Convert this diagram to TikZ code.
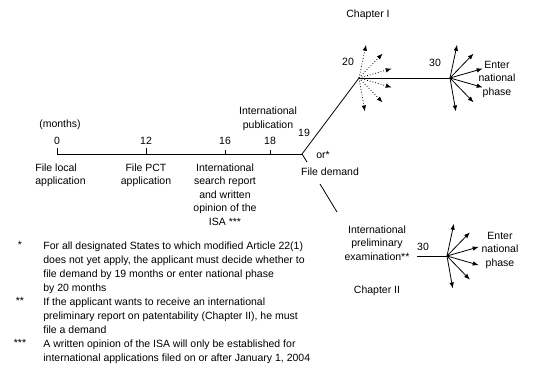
\documentclass[tikz,border=0pt]{standalone}
\usepackage{fontspec}
\setmainfont{Liberation Sans}
\usetikzlibrary{arrows.meta}
\begin{document}
\begin{tikzpicture}[
            x=1pt,
            y=-1pt,
            line width=0.8pt,
            every node/.style={
                inner sep=0pt,
                align=center,
                font=\fontsize{10.5}{13.5}\selectfont
            },
            fan/.style={-{Latex[length=6pt,width=4.5pt]}},
            dotfan/.style={fan, dotted},
            note/.style={
                anchor=north west,
                align=left,
                font=\fontsize{10.5}{14}\selectfont
            },
            starmark/.style={anchor=north, font=\fontsize{10.5}{14}\selectfont}
        ]
            \useasboundingbox (0,0) rectangle (540,370);

            \coordinate (t0) at (57,154);
            \coordinate (t12) at (146,154);
            \coordinate (t16) at (225,154);
            \coordinate (t18) at (270,154);
            \coordinate (t19) at (302,154);
            \coordinate (t20) at (359,78);
            \coordinate (t30) at (450,78);
            \coordinate (s30) at (447,256);
            \coordinate (stub) at (307,162);
            \coordinate (b1) at (320,184);
            \coordinate (b2) at (337,212);
            \coordinate (s0) at (417,256);

            \node (months) at (60,125) {(months)};
            \node (n0) at (57,141) {0};
            \node (n12) at (146,141) {12};
            \node (n16) at (225,141) {16};
            \node (n18) at (270,141) {18};
            \node (n19) at (304,133) {19};
            \node (pub) at (268,119) {International\\publication};
            \node (n20) at (348,62) {20};
            \node (n30) at (435,63) {30};
            \node (m30) at (423,247) {30};
            \node (chI) at (368,15) {Chapter I};
            \node (chII) at (377,291) {Chapter II};
            \node (or) at (323,155) {or*};

            \node[anchor=north west, align=left] (local) at (35,163) {File local\\application};
            \node[anchor=north] (pct) at (146,163) {File PCT\\application};
            \node[anchor=north] (isr) at (225,163) {International\\search report\\and written\\opinion of the\\ISA ***};
            \node (demand) at (330,172) {File demand};
            \node (ipe) at (377,243) {International\\preliminary\\examination**};
            \node (enter1) at (497,79) {Enter\\national\\phase};
            \node (enter2) at (500,250) {Enter\\national\\phase};

            \draw (t0) -- (t19);
            \draw (t0) -- ++(0,-6);
            \draw (t12) -- ++(0,-6);
            \draw (t16) -- ++(0,-4);
            \draw (t18) -- ++(0,-4);
            \draw (t19) -- (t20);
            \draw (t19) -- (stub);
            \draw (t20) -- (t30);
            \draw (b1) -- (b2);
            \draw (s0) -- (s30);

            \foreach \a [count=\i] in {80,46,16,-16,-46,-78} {
                \path (t20) ++(\a:34) coordinate (d\i);
                \draw[dotfan] (t20) -- (d\i);
                \path (t30) ++(\a:34) coordinate (e\i);
                \draw[fan] (t30) -- (e\i);
                \path (s30) ++(\a:33) coordinate (f\i);
                \draw[fan] (s30) -- (f\i);
            }

            \node[starmark] (st1) at (20,241) {*};
            \node[note] (fn1) at (43,241) {For all designated States to which modified Article 22(1)\\does not yet apply, the applicant must decide whether to\\file demand by 19 months or enter national phase\\by 20 months};
            \node[starmark] (st2) at (20,297) {**};
            \node[note] (fn2) at (43,297) {If the applicant wants to receive an international\\preliminary report on patentability (Chapter II), he must\\file a demand};
            \node[starmark] (st3) at (20,339) {***};
            \node[note] (fn3) at (43,339) {A written opinion of the ISA will only be established for\\international applications filed on or after January 1, 2004};
        \end{tikzpicture}
\end{document}
